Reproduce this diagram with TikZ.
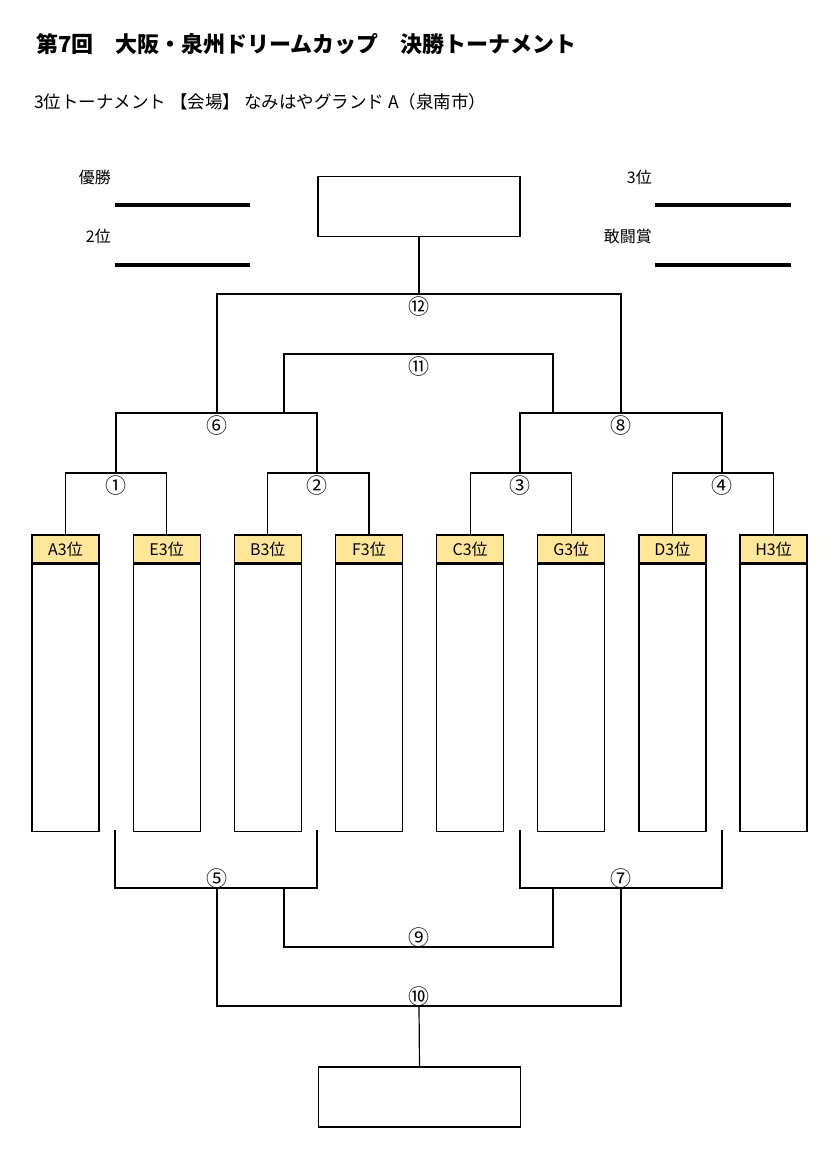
\documentclass[tikz,border=0pt]{standalone}
\usepackage{fontspec}
\setmainfont{Noto Sans CJK JP}
\usepackage[HTML]{xcolor}
\usepackage{tikz}
\usetikzlibrary{positioning}

\definecolor{headfill}{HTML}{FFE699}

\tikzset{
    teamhead/.style={draw, fill=headfill, line width=1.2pt, minimum width=67pt, minimum height=28pt, inner sep=0pt, font=\fontsize{16}{16}\selectfont},
    teambody/.style={draw, line width=1.2pt, minimum width=67pt, minimum height=267pt, inner sep=0pt},
    matchno/.style={inner sep=0pt, font=\fontsize{21}{21}\selectfont},
    prize/.style={anchor=east, inner sep=0pt, font=\fontsize{16}{16}\selectfont},
    bracket/.style={line width=1.2pt},
    resultbox/.style={draw, line width=1.2pt, minimum width=202pt, minimum height=60pt, inner sep=0pt},
    prizeline/.style={line width=3.5pt}
}

\begin{document}
\begin{tikzpicture}[x=1pt, y=-1pt]
    \useasboundingbox (0,0) rectangle (831,1171);

    % 1. Titles
    \node[anchor=west, inner sep=0pt, font=\fontsize{22}{22}\selectfont\bfseries] (title) at (36,44) {第7回　大阪・泉州ドリームカップ　決勝トーナメント};
    \node[anchor=west, inner sep=0pt, font=\fontsize{17.5}{17.5}\selectfont] (sub) at (34,102) {3位トーナメント 【会場】 なみはやグランド A（泉南市）};

    % 2. Prize names and the lines to write on
    \node[prize] (win) at (111,177) {優勝};
    \node[prize] (second) at (111,236) {2位};
    \node[prize] (third) at (652,177) {3位};
    \node[prize] (fight) at (652,236) {敢闘賞};
    \draw[prizeline] (115,205) -- (250,205);
    \draw[prizeline] (115,265) -- (250,265);
    \draw[prizeline] (655,205) -- (791,205);
    \draw[prizeline] (655,265) -- (791,265);

    % 3. Result boxes at top and bottom
    \node[resultbox] (topbox) at (419,206.5) {};
    \node[resultbox] (botbox) at (419.5,1097) {};

    % 4. Team boxes (header with name, empty body below)
    \foreach \t [count=\i from 0] in {A,E,B,F,C,G,D,H} {
        \node[teamhead] (h\t) at ({65.5+101.15*\i},549) {\t3位};
        \node[teambody, below=0pt of h\t] (b\t) {};
    }

    % 5. First round, drawn above the boxes
    \foreach \a/\b/\n/\x in {A/E/1/116, B/F/2/317, C/G/3/520, D/H/4/722} {
        \coordinate (j\n) at (\x,473);
        \node[matchno, below=3pt of j\n] (m\n) {\ifcase\n\or ①\or ②\or ③\or ④\fi};
        \draw[bracket] (h\a.north) |- (j\n) -| (h\b.north);
    }

    % 6. Upper rounds
    \coordinate (j6) at (217,413);
    \coordinate (j8) at (621,413);
    \coordinate (j11) at (419,354);
    \coordinate (j12) at (419,294);
    \node[matchno, below=3pt of j6] (m6) {⑥};
    \node[matchno, below=3pt of j8] (m8) {⑧};
    \node[matchno, below=3pt of j11] (m11) {⑪};
    \node[matchno, below=3pt of j12] (m12) {⑫};
    \draw[bracket] (j1) -- (j1 |- j6) -| (j2);
    \draw[bracket] (j3) -- (j3 |- j8) -| (j4);
    \draw[bracket] (284,413) |- (j11) -| (553,413);
    \draw[bracket] (j6) |- (j12) -| (j8);
    \draw[bracket] (j12) -- (topbox.south);

    % 7. Lower rounds, drawn below the boxes
    \coordinate (j5) at (217,888);
    \coordinate (j7) at (621,888);
    \coordinate (j9) at (419,947);
    \coordinate (j10) at (419,1006);
    \node[matchno, above=0pt of j5] (m5) {⑤};
    \node[matchno, above=0pt of j7] (m7) {⑦};
    \node[matchno, above=0pt of j9] (m9) {⑨};
    \node[matchno, above=0pt of j10] (m10) {⑩};
    \draw[bracket] (115,830) |- (j5) -| (317,830);
    \draw[bracket] (520,830) |- (j7) -| (722,830);
    \draw[bracket] (284,888) |- (j9) -| (553,888);
    \draw[bracket] (j5) |- (j10) -| (j7);
    \draw[bracket] (j10) -- (botbox.north);

\end{tikzpicture}
\end{document}
